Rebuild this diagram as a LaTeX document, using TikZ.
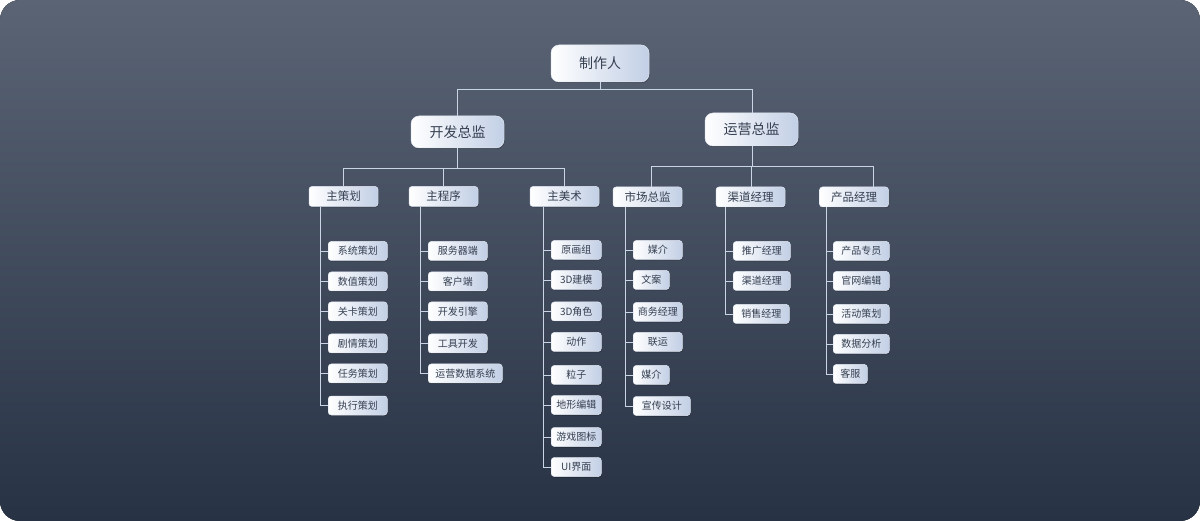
\documentclass[tikz,border=0pt]{standalone}
\usepackage{fontspec}
\newfontfamily\cjk{Noto Sans CJK SC}
\usetikzlibrary{shadows}
\definecolor{bgT}{HTML}{5A6475}
\definecolor{bgB}{HTML}{273244}
\definecolor{boxR}{HTML}{C2CFE5}
\definecolor{boxLine}{HTML}{E2E8F2}
\definecolor{conn}{HTML}{C9D4E4}
\definecolor{txt}{HTML}{343F51}
\tikzset{
  x=1pt, y=-1pt,
  box/.style={rectangle, draw=boxLine, line width=0.5pt, left color=white, right color=boxR,
    inner sep=0pt, text=txt, font=\cjk,
    drop shadow={shadow xshift=0.6pt, shadow yshift=-1pt, opacity=0.25, fill=black}},
  topbox/.style={box, rounded corners=8pt, font=\cjk\fontsize{14}{16}\selectfont},
  midbox/.style={box, rounded corners=3pt, minimum width=69pt, minimum height=20pt, font=\cjk\fontsize{11.5}{13}\selectfont},
  leaf/.style={box, rounded corners=3pt, minimum height=19pt, anchor=west, font=\cjk\fontsize{10}{12}\selectfont},
  cn/.style={draw=conn, line width=0.9pt}
}
\begin{document}
\begin{tikzpicture}
\fill[top color=bgT, bottom color=bgB, rounded corners=20pt] (0,0) rectangle (1200,521);
\useasboundingbox (0,0) rectangle (1200,521);

% top levels
\node[topbox, minimum width=98pt, minimum height=37pt] (zz) at (600,63.5) {制作人};
\node[topbox, minimum width=93pt, minimum height=32pt] (kf) at (457.5,132) {开发总监};
\node[topbox, minimum width=93pt, minimum height=33pt] (yy) at (751.5,129.5) {运营总监};

\draw[cn] (zz.south) -- ++(0,7) -| (kf.north);
\draw[cn] (zz.south) ++(0,7) -| ([xshift=0.5pt]yy.north);

% second level
\node[midbox] (zc) at (343.5,196.5) {主策划};
\node[midbox] (zx) at (443.5,196.5) {主程序};
\node[midbox] (zm) at (564.5,196.5) {主美术};
\node[midbox] (sc) at (647.5,197) {市场总监};
\node[midbox] (qd) at (750.5,197) {渠道经理};
\node[midbox] (cp) at (854,197) {产品经理};

\draw[cn] (kf.south) -- ++(0,20) -| (zc.north);
\draw[cn] (kf.south) ++(0,20) -| (zx.north);
\draw[cn] (kf.south) ++(0,20) -| (zm.north);
\draw[cn] ([xshift=0.5pt]yy.south) -- ++(0,20) -| ([xshift=3.5pt]sc.north);
\draw[cn] ([xshift=0.5pt]yy.south) ++(0,20) -| ([xshift=1pt]qd.north);
\draw[cn] ([xshift=0.5pt]yy.south) ++(0,20) -| ([xshift=19pt]cp.north);

% leaves: 主策划
\foreach \n/\t/\y/\w in {1/系统策划/251/59, 2/数值策划/281.5/59, 3/关卡策划/311.5/59, 4/剧情策划/343.5/59, 5/任务策划/373.5/59, 6/执行策划/405.5/59}{
  \node[leaf, minimum width=\w pt] (zc\n) at (328,\y) {\t};
  \draw[cn] ([xshift=12pt]zc.south west) |- (zc\n.west);
}
% 主程序
\foreach \n/\t/\y/\w in {1/服务器端/251/59, 2/客户端/281.5/59, 3/开发引擎/311.5/59, 4/工具开发/343.5/59, 5/运营数据系统/373.5/74}{
  \node[leaf, minimum width=\w pt] (zx\n) at (428,\y) {\t};
  \draw[cn] ([xshift=12pt]zx.south west) |- (zx\n.west);
}
% 主美术
\foreach \n/\t/\y/\w in {1/原画组/250/50, 2/3D建模/280/50, 3/3D角色/311.5/50, 4/动作/342/50, 5/粒子/375/50, 6/地形编辑/405/50, 7/游戏图标/437/50, 8/UI界面/467/50}{
  \node[leaf, minimum width=\w pt] (zm\n) at (551,\y) {\t};
  \draw[cn] ([xshift=13.5pt]zm.south west) |- (zm\n.west);
}
% 市场总监
\foreach \n/\t/\y/\w in {1/媒介/250/49, 2/文案/280/36, 3/商务经理/312/49, 4/联运/342/49, 5/媒介/375/36, 6/宣传设计/406/57}{
  \node[leaf, minimum width=\w pt] (sc\n) at (633,\y) {\t};
  \draw[cn] ([xshift=13pt]sc.south west) |- (sc\n.west);
}
% 渠道经理
\foreach \n/\t/\y/\w in {1/推广经理/251/57, 2/渠道经理/281/57, 3/销售经理/314/56}{
  \node[leaf, minimum width=\w pt] (qd\n) at (733,\y) {\t};
  \draw[cn] ([xshift=10pt]qd.south west) |- (qd\n.west);
}
% 产品经理
\foreach \n/\t/\y/\w in {1/产品专员/251/56, 2/官网编辑/281/56, 3/活动策划/314/56, 4/数据分析/344/56, 5/客服/374/34}{
  \node[leaf, minimum width=\w pt] (cp\n) at (833,\y) {\t};
  \draw[cn] ([xshift=7pt]cp.south west) |- (cp\n.west);
}
\end{tikzpicture}
\end{document}
